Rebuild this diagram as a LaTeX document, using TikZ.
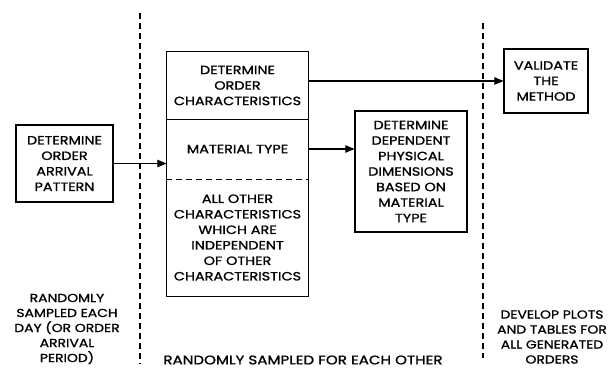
\documentclass[tikz,border=0pt]{standalone}
\usepackage{fontspec}
\setmainfont{Poppins}[FakeStretch = 1.2, FakeBold = 1.2]
\usetikzlibrary{arrows}

\begin{document}
\begin{tikzpicture}[x = 1pt, y = -1pt]
\tikzstyle{BoxStyle}=[
shape = rectangle,
inner sep = 0pt,
align = center,
font = \fontsize{12}{15.5}\selectfont,
line width = 1.1pt]
\tikzstyle{NoteStyle}=[
align = center,
inner sep = 0pt,
font = \fontsize{11.6}{15}\selectfont]
\tikzstyle{post}=[-triangle 45, line width = 1.1pt]
\tikzstyle{split}=[dash pattern = on 6pt off 4pt, line width = 1.2pt]
\useasboundingbox (0, 0) rectangle (611, 370);
\node[BoxStyle, draw, minimum width = 97pt, minimum height = 77pt] (arrival) at (64.5, 163.5) {DETERMINE\\ORDER\\ARRIVAL\\PATTERN};
\node[BoxStyle, minimum width = 141pt, minimum height = 67pt] (char) at (237.5, 85.5) {DETERMINE\\ORDER\\CHARACTERISTICS};
\node[BoxStyle, minimum width = 141pt, minimum height = 60pt] (material) at (237.5, 149) {MATERIAL TYPE};
\node[BoxStyle, minimum width = 141pt, minimum height = 117pt] (other) at (237.5, 237.5) {ALL OTHER\\CHARACTERISTICS\\WHICH ARE\\INDEPENDENT\\OF OTHER\\CHARACTERISTICS};
\node[BoxStyle, draw, minimum width = 112pt, minimum height = 121pt] (dependent) at (411, 171.5) {DETERMINE\\DEPENDENT\\PHYSICAL\\DIMENSIONS\\BASED ON\\MATERIAL\\TYPE};
\node[BoxStyle, draw, minimum width = 84pt, minimum height = 64pt] (validate) at (546, 81) {VALIDATE\\THE\\METHOD};
\node[NoteStyle] (sampleday) at (67, 329) {RANDOMLY\\SAMPLED EACH\\DAY (OR ORDER\\ARRIVAL\\PERIOD)};
\node[NoteStyle, font = \fontsize{12.6}{14}\selectfont] (eachother) at (303, 360) {RANDOMLY SAMPLED FOR EACH OTHER};
\node[NoteStyle] (plots) at (552, 337) {DEVELOP PLOTS\\AND TABLES FOR\\ALL GENERATED\\ORDERS};
\coordinate (s1top) at (140, 13);
\coordinate (s1bot) at (140, 364);
\coordinate (s2top) at (483, 23);
\coordinate (s2bot) at (483, 358);
% the characteristics box
\draw[line width = 1.1pt] (char.north west) rectangle (other.south east);
\draw[line width = 1.1pt] (char.south west) -- (char.south east);
\draw[dash pattern = on 6pt off 4pt, line width = 1.1pt] (material.south west) -- (material.south east);
% stage lines
\draw[split] (s1top) -- (s1bot);
\draw[split] (s2top) -- (s2bot);
\draw[post] (arrival.east) -- (arrival.east -| material.west);
\draw[post] (char.east |- validate.west) -- (validate.west);
\draw[post] (material.east) -- (material.east -| dependent.west);
\end{tikzpicture}
\end{document}
